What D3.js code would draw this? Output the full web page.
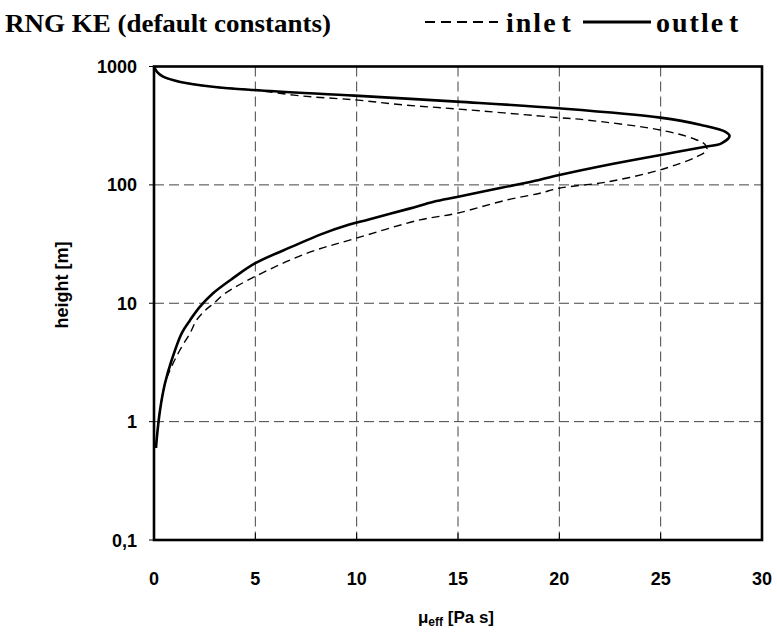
<!DOCTYPE html>
<html><head><meta charset="utf-8">
<script src="https://cdn.jsdelivr.net/npm/d3@7"></script>
<style>body{margin:0;background:#fff}svg{display:block}</style>
</head><body>
<svg id="c" width="777" height="639"></svg>
<script>
// ---- data ----
const xTicks = [0, 5, 10, 15, 20, 25, 30];
const yTicks = [0.1, 1, 10, 100, 1000];
const yTickLabels = ["0,1", "1", "10", "100", "1000"];
const outletMu = [0, 0.15, 0.45, 1.3, 2.9, 4.9, 9.9, 14.95, 19.97, 24.98, 27.0, 28.2, 28.4, 28.0, 27.2, 25.0, 22.6, 20.0, 19.0, 17.2, 14.95, 13.8, 12.6, 10.6, 9.6, 8.2, 6.9, 5.0, 3.9, 2.9, 2.27, 1.78, 1.37, 0.87, 0.54, 0.30, 0.13, 0.1];
const outletH  = [1000, 900, 820, 740, 675, 633, 567, 505, 444, 370, 321, 281, 259, 224, 210, 179, 150, 121, 110, 95, 79, 72, 63, 51, 46, 38, 30.5, 21.8, 16.3, 12.1, 9.35, 7.2, 5.6, 3.3, 2.1, 1.26, 0.7, 0.6];
const inletMu = [0, 0.15, 0.45, 1.3, 2.9, 4.9, 7.33, 9.94, 12.34, 14.95, 19.97, 21.36, 24.98, 26.58, 27.18, 27.28, 26.79, 24.98, 22.37, 19.97, 19.04, 17.4, 14.93, 13.12, 9.97, 7.53, 4.98, 3.5, 2.95, 2.55, 2.1, 1.78, 1.28, 0.87, 0.54, 0.30, 0.13, 0.1];
const inletH  = [1000, 900, 820, 740, 675, 633, 563, 522, 473, 438, 370, 353, 291, 247, 220, 197, 173, 134, 106, 93.6, 85, 74.5, 57.5, 50.6, 35.4, 26.4, 16.8, 12.1, 10, 8.78, 7.2, 5.6, 4.03, 2.92, 2.1, 1.26, 0.7, 0.6];
const title = "RNG KE (default constants)";
const seriesNames = ["inlet", "outlet"];

// ---- layout ----
const svg = d3.select("#c");
const L = 154, R = 762, T = 66.5, B = 540;
const x = d3.scaleLinear().domain([0, 30]).range([L, R]);
const y = d3.scaleLog().domain([0.1, 1000]).range([B, T]);

// grid
const g = svg.append("g");
g.selectAll(".vg").data(xTicks.filter(d => d > 0 && d < 30)).join("line")
  .attr("x1", d => x(d)).attr("x2", d => x(d)).attr("y1", T).attr("y2", B)
  .attr("stroke", "#444").attr("stroke-width", 1).attr("stroke-dasharray", "10,5");
g.selectAll(".hg").data(yTicks.filter(d => d > 0.1 && d < 1000)).join("line")
  .attr("x1", L).attr("x2", R).attr("y1", d => y(d)).attr("y2", d => y(d))
  .attr("stroke", "#444").attr("stroke-width", 1).attr("stroke-dasharray", "10,5");

// x ticks (inside, from bottom)
g.selectAll(".xt").data(xTicks.filter(d => d > 0 && d < 30)).join("line")
  .attr("x1", d => x(d)).attr("x2", d => x(d)).attr("y1", B).attr("y2", B - 7)
  .attr("stroke", "#000").attr("stroke-width", 1);
// y ticks (outside)
g.selectAll(".yt").data(yTicks).join("line")
  .attr("x1", L - 5).attr("x2", L).attr("y1", d => y(d)).attr("y2", d => y(d))
  .attr("stroke", "#000").attr("stroke-width", 1);

// curves
const line = d3.line().x(d => x(d[0])).y(d => y(d[1])).curve(d3.curveCatmullRom.alpha(0.5));
const inlet = inletMu.map((m, i) => [m, inletH[i]]);
const outlet = outletMu.map((m, i) => [m, outletH[i]]);
svg.append("path").attr("d", line(inlet)).attr("fill", "none")
  .attr("stroke", "#000").attr("stroke-width", 1.4).attr("stroke-dasharray", "8,5");
svg.append("path").attr("d", line(outlet)).attr("fill", "none")
  .attr("stroke", "#000").attr("stroke-width", 2.6);

// frame
svg.append("rect").attr("x", L).attr("y", T).attr("width", R - L).attr("height", B - T)
  .attr("fill", "none").attr("stroke", "#000").attr("stroke-width", 2.6);

// tick labels
const sans = "'Liberation Sans', Arial, sans-serif";
svg.selectAll(".xl").data(xTicks).join("text")
  .attr("x", d => x(d)).attr("y", 585).attr("text-anchor", "middle")
  .attr("font-family", sans).attr("font-weight", "bold").attr("font-size", 18)
  .text(d => d);
svg.selectAll(".yl").data(yTicks).join("text")
  .attr("x", 137).attr("y", d => y(d) + 6.5).attr("text-anchor", "end")
  .attr("font-family", sans).attr("font-weight", "bold").attr("font-size", 18)
  .text((d, i) => yTickLabels[i]);

// axis titles
const xt = svg.append("text").attr("x", 456).attr("y", 623).attr("text-anchor", "middle")
  .attr("font-family", sans).attr("font-weight", "bold").attr("font-size", 17);
xt.append("tspan").text("μ");
xt.append("tspan").attr("font-size", 12).attr("dy", 3).text("eff");
xt.append("tspan").attr("dy", -3).text(" [Pa s]");
svg.append("text").attr("transform", "translate(68,285) rotate(-90)").attr("text-anchor", "middle")
  .attr("font-family", sans).attr("font-weight", "bold").attr("font-size", 18)
  .text("height [m]");

// title & legend
const serif = "'Liberation Serif', 'Times New Roman', serif";
svg.append("text").attr("x", 5).attr("y", 32).attr("font-family", serif)
  .attr("font-weight", "bold").attr("font-size", 26)
  .attr("textLength", 326).attr("lengthAdjust", "spacingAndGlyphs").text(title);
svg.append("line").attr("x1", 425).attr("x2", 498).attr("y1", 22).attr("y2", 22)
  .attr("stroke", "#000").attr("stroke-width", 2).attr("stroke-dasharray", "10,6");
function legendText(x0, s) {
  const t = svg.append("text").attr("x", x0).attr("y", 32).attr("font-family", serif)
    .attr("font-weight", "bold").attr("font-size", 28).attr("letter-spacing", 2);
  t.append("tspan").text(s.slice(0, -1));
  t.append("tspan").attr("dx", 4).text(s.slice(-1));
}
legendText(506, seriesNames[0]);
svg.append("line").attr("x1", 583).attr("x2", 651).attr("y1", 22).attr("y2", 22)
  .attr("stroke", "#000").attr("stroke-width", 3);
legendText(656, seriesNames[1]);
</script>
</body></html>
